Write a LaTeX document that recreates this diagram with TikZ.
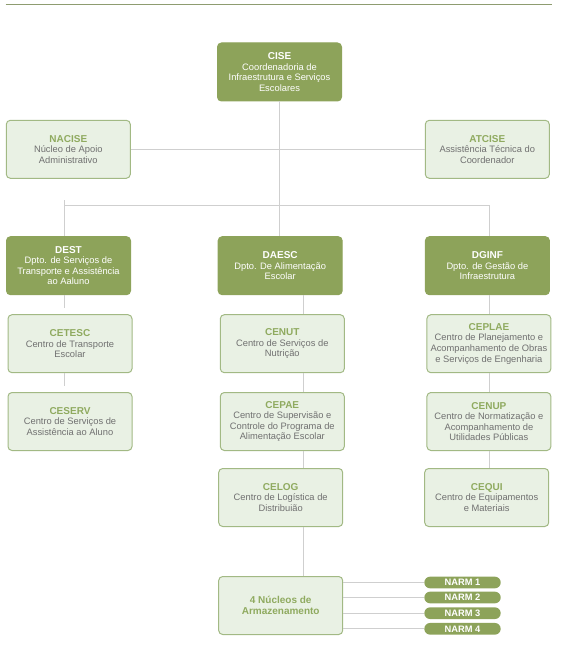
\documentclass[tikz,border=0pt]{standalone}
\usepackage{fontspec}
\setmainfont{Liberation Sans}
\usepackage{tikz}

\definecolor{oliv}{HTML}{8DA35A}
\definecolor{hell}{HTML}{E9F1E4}
\definecolor{rand}{HTML}{A2B984}
\definecolor{titel}{HTML}{8FAA5F}
\definecolor{grau}{HTML}{707070}
\definecolor{linie}{HTML}{CFCFCF}
\definecolor{kopflinie}{HTML}{8E9C70}

\newcommand{\dkopf}[1]{{\bfseries\fontsize{7.5}{8.5}\selectfont #1}}
\newcommand{\hkopf}[1]{{\color{titel}\bfseries\fontsize{7.5}{8.5}\selectfont #1}}

\begin{document}
\begin{tikzpicture}[x=.75pt, y=-.75pt, line width=.75pt,
    box/.style={rounded corners=3pt, minimum width=93pt, minimum height=43.5pt,
        inner sep=0pt, align=center, font=\fontsize{7}{7.9}\selectfont},
    dunkel/.style={box, fill=oliv, draw=oliv, text=white},
    hellbox/.style={box, fill=hell, draw=rand, text=grau},
    verb/.style={draw=linie},
    narm/.style={fill=oliv, rounded corners=4.4pt, minimum width=57.3pt,
        minimum height=8.8pt, inner sep=0pt, text=white,
        font=\bfseries\fontsize{7}{7}\selectfont}]
    \useasboundingbox (0,0) rectangle (573,649);

    % Kopflinie.
    \draw[kopflinie] (5.5,4.3) -- (552,4.3);

    % Leitung.
    \node[dunkel] (cise) at (279.5,72) {\dkopf{CISE}\\Coordenadoria de\\Infraestrutura e Serviços\\Escolares};
    \node[hellbox] (nacise) at (68.3,149.3) {\hkopf{NACISE}\\Núcleo de Apoio\\Administrativo};
    \node[hellbox] (atcise) at (487.3,149.3) {\hkopf{ATCISE}\\Assistência Técnica do\\Coordenador};

    % Departamentos.
    \node[dunkel] (dest) at (68.5,265.7) {\dkopf{DEST}\\Dpto. de Serviços de\\Transporte e Assistência\\ao Aaluno};
    \node[dunkel] (daesc) at (280.2,265.7) {\dkopf{DAESC}\\Dpto. De Alimentação\\Escolar};
    \node[dunkel] (dginf) at (487.4,265.7) {\dkopf{DGINF}\\Dpto. de Gestão de\\Infraestrutura};

    % Centros.
    \node[hellbox] (cetesc) at (70,343.7) {\hkopf{CETESC}\\Centro de Transporte\\Escolar};
    \node[hellbox] (ceserv) at (70,421.5) {\hkopf{CESERV}\\Centro de Serviços de\\Assistência ao Aluno};
    \node[hellbox] (cenut) at (282.3,343.7) {\hkopf{CENUT}\\Centro de Serviços de\\Nutrição};
    \node[hellbox] (cepae) at (282.3,421.5) {\hkopf{CEPAE}\\Centro de Supervisão e\\Controle do Programa de\\Alimentação Escolar};
    \node[hellbox] (celog) at (280.7,497.5) {\hkopf{CELOG}\\Centro de Logística de\\Distribuião};
    \node[hellbox] (ceplae) at (488.9,343.7) {\hkopf{CEPLAE}\\Centro de Planejamento e\\Acompanhamento de Obras\\e Serviços de Engenharia};
    \node[hellbox] (cenup) at (488.9,421.5) {\hkopf{CENUP}\\Centro de Normatização e\\Acompanhamento de\\Utilidades Públicas};
    \node[hellbox] (cequi) at (486.7,497.5) {\hkopf{CEQUI}\\Centro de Equipamentos\\e Materiais};
    \node[hellbox, text=titel, font=\bfseries\fontsize{7.5}{8.6}\selectfont] (nucleos) at (280.7,605.5) {4 Núcleos de\\Armazenamento};

    % Linien.
    \coordinate (spL) at (64.6,200.3);
    \coordinate (spR) at (489.3,205.7);
    \coordinate (colL) at (64.6,0);
    \coordinate (colC) at (303.8,0);
    \coordinate (colR) at (489.3,0);

    \draw[verb] (nacise) -- (atcise);
    \draw[verb] (cise.south) -- (cise.south |- daesc.north);
    \draw[verb] (spL) -- (spL |- dest.north);
    \draw[verb] (spL |- spR) -- (spR) -- (spR |- dginf.north);
    \foreach \a/\b in {dest/cetesc, cetesc/ceserv}
    {
        \draw[verb, shorten >=4.8pt] (\a.south -| colL) -- (\b.north -| colL);
    }
    \foreach \a/\b in {daesc/cenut, cenut/cepae, cepae/celog, celog/nucleos}
    {
        \draw[verb] (\a.south -| colC) -- (\b.north -| colC);
    }
    \foreach \a/\b in {dginf/ceplae, ceplae/cenup, cenup/cequi}
    {
        \draw[verb] (\a.south -| colR) -- (\b.north -| colR);
    }

    % Nucleos.
    \foreach \i/\y in {1/582.5, 2/597.5, 3/613.2, 4/628.8}
    {
        \node[narm] (narm\i) at (462.5,\y) {NARM \i};
        \draw[verb] (nucleos.east |- narm\i) -- (narm\i.west);
    }
\end{tikzpicture}
\end{document}
